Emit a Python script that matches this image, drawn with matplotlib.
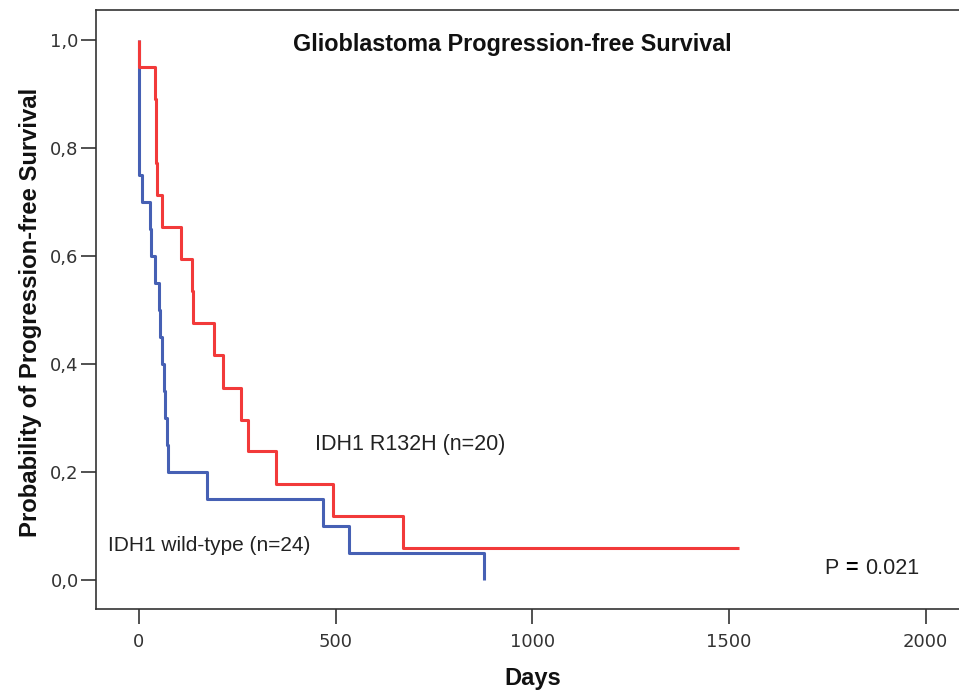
import numpy as np
import matplotlib
matplotlib.use('Agg')
from matplotlib import pyplot as plt

# Kaplan-Meier steps (days, survival after the drop)
red_times = [0, 41, 42, 44, 46, 59, 107, 135, 138, 191, 213, 260, 276, 349, 494, 672]
red_levels = [0.95, 0.891, 0.832, 0.772, 0.713, 0.653, 0.594, 0.535, 0.475,
              0.416, 0.356, 0.297, 0.238, 0.178, 0.119, 0.059]
red_last = 1525

blue_times = [0, 7, 27, 31, 41, 50, 54, 58, 63, 66, 70, 75, 173, 469, 535, 878]
blue_levels = [0.75, 0.70, 0.65, 0.60, 0.55, 0.50, 0.45, 0.40, 0.35, 0.30,
               0.25, 0.20, 0.15, 0.10, 0.05, 0.0]

x_ticks = [0, 500, 1000, 1500, 2000]
x_ticklabels = ['0', '500', '1000', '1500', '2000']
y_ticks = [0.0, 0.2, 0.4, 0.6, 0.8, 1.0]
y_ticklabels = ['0,0', '0,2', '0,4', '0,6', '0,8', '1,0']

red_color = '#f23a3a'
blue_color = '#4660b4'
text_color = '#222222'

W, H = 959, 693
fig = plt.figure(figsize=(W / 100, H / 100), dpi=100)
fig.patch.set_facecolor('white')

# axes box in pixels: left 96, top 10, bottom 609, runs past right edge
ax = fig.add_axes([96 / W, 1 - 609.3 / H, 1 - 96 / W, (609.3 - 10) / H])

rx = [0] + red_times + [red_last]
ry = [1.0] + red_levels + [red_levels[-1]]
bx = [0] + blue_times
by = [1.0] + blue_levels

ax.step(bx, by, where='post', color=blue_color, lw=2.2, solid_capstyle='butt', zorder=3)
ax.step(rx, ry, where='post', color=red_color, lw=2.2, solid_capstyle='butt', zorder=4)

ax.set_xlim(-109.3, 2085)
ax.set_ylim(-0.0543, 1.0556)

ax.set_xticks(x_ticks)
ax.set_xticklabels(x_ticklabels)
ax.set_yticks(y_ticks)
ax.set_yticklabels(y_ticklabels)
ax.tick_params(axis='both', direction='out', length=11, width=1.2, color='#333333',
               labelsize=13, labelcolor='#333333')
ax.tick_params(axis='x', pad=6)
ax.tick_params(axis='y', pad=1.5)

for s in ['left', 'bottom', 'top']:
    ax.spines[s].set_color('#333333')
    ax.spines[s].set_linewidth(1.2)
ax.spines['right'].set_visible(False)

fig.text(512.5 / W, 1 - 45 / H, 'Glioblastoma Progression-free Survival',
         ha='center', va='center', fontsize=16.8, fontweight='bold',
         family='Liberation Sans', color='#111111')
fig.text(31 / W, 1 - 312 / H, 'Probability of Progression-free Survival',
         ha='center', va='center', rotation=90, fontsize=17.2, fontweight='bold',
         family='Liberation Sans', color='#111111')
fig.text(533 / W, 1 - 678 / H, 'Days', ha='center', va='center',
         fontsize=17, fontweight='bold', family='Liberation Sans', color='#111111')

ax.text(447, 0.25, 'IDH1 R132H (n=20)', ha='left', va='center', fontsize=15.5,
        family='Liberation Sans', color=text_color)
ax.text(-79, 0.063, 'IDH1 wild-type (n=24)', ha='left', va='center', fontsize=15,
        family='Liberation Sans', color=text_color)

ax.text(1742, 0.022, 'P', ha='left', va='center', fontsize=15.5,
        family='Liberation Sans', color=text_color)
ax.text(1795, 0.022, '=', ha='left', va='center', fontsize=15.5, fontweight='bold',
        family='Liberation Sans', color='#000000')
ax.text(1846, 0.022, '0.021', ha='left', va='center', fontsize=15.5,
        family='Liberation Sans', color=text_color)

fig.savefig('out.png', dpi=100)
plt.close('all')
